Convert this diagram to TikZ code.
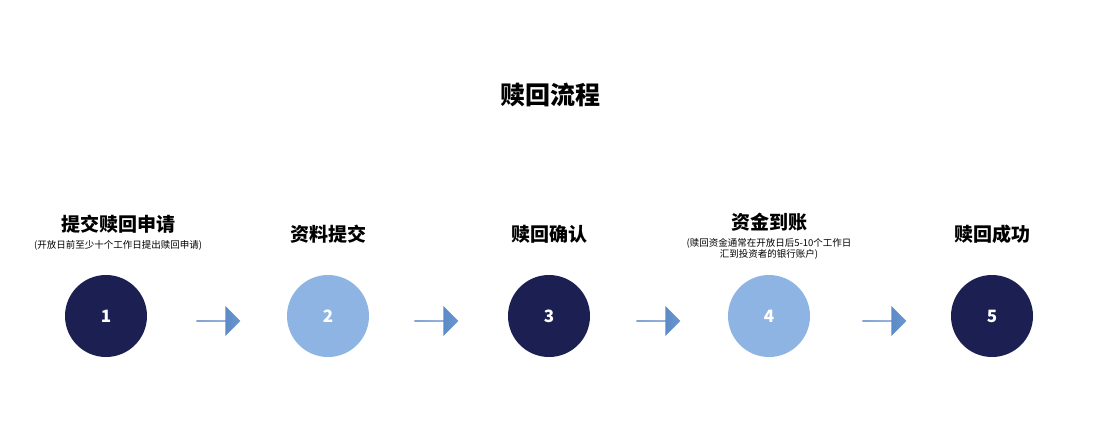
\documentclass[tikz,border=0pt]{standalone}
\usepackage{fontspec}
\setmainfont{Noto Sans CJK SC}
\usetikzlibrary{positioning}
\usetikzlibrary{shapes.arrows}
\definecolor{navy}{HTML}{1B1F52}
\definecolor{sky}{HTML}{8EB4E3}
\definecolor{arrowdark}{HTML}{3E72B8}
\definecolor{arrowlight}{HTML}{6A97D0}
\tikzset{
  stepdot/.style={circle, minimum size=82pt, inner sep=0pt, text=white, font=\fontsize{17}{17}\selectfont\bfseries},
  headline/.style={font=\fontsize{19}{19}\selectfont\bfseries},
  note/.style={font=\fontsize{9.5}{11.5}\selectfont, align=center},
  flow/.style={single arrow, minimum height=44pt, minimum width=30pt, single arrow head extend=5pt, inner sep=0pt, left color=arrowdark, right color=arrowlight, shading angle=90}
}
\begin{document}
\begin{tikzpicture}[x=1pt,y=-1pt]
		\useasboundingbox (0,0) rectangle (1100,429);
		\node (title) [font=\fontsize{25}{25}\selectfont\bfseries] at (550,95) {赎回流程};
		\node (c1) [stepdot, fill=navy] at (106,316) {1};
		\node (c2) [stepdot, fill=sky] at (328,316) {2};
		\node (c3) [stepdot, fill=navy] at (549,316) {3};
		\node (c4) [stepdot, fill=sky] at (769,316) {4};
		\node (c5) [stepdot, fill=navy] at (992,316) {5};
		\node (a1) [flow] at (218,321) {};
		\node (a2) [flow] at (436,321) {};
		\node (a3) [flow] at (658,321) {};
		\node (a4) [flow] at (884,321) {};
		\node (t1) [headline] at (118,224) {提交赎回申请};
		\node (n1) [note, below=0pt of t1] {(开放日前至少十个工作日提出赎回申请)};
		\node (t2) [headline] at (328,234) {资料提交};
		\node (t3) [headline] at (549,234) {赎回确认};
		\node (t4) [headline] at (769,222) {资金到账};
		\node (n4) [note, below=0pt of t4] {(赎回资金通常在开放日后5-10个工作日\\汇到投资者的银行账户)};
		\node (t5) [headline] at (992,234) {赎回成功};
\end{tikzpicture}
\end{document}
